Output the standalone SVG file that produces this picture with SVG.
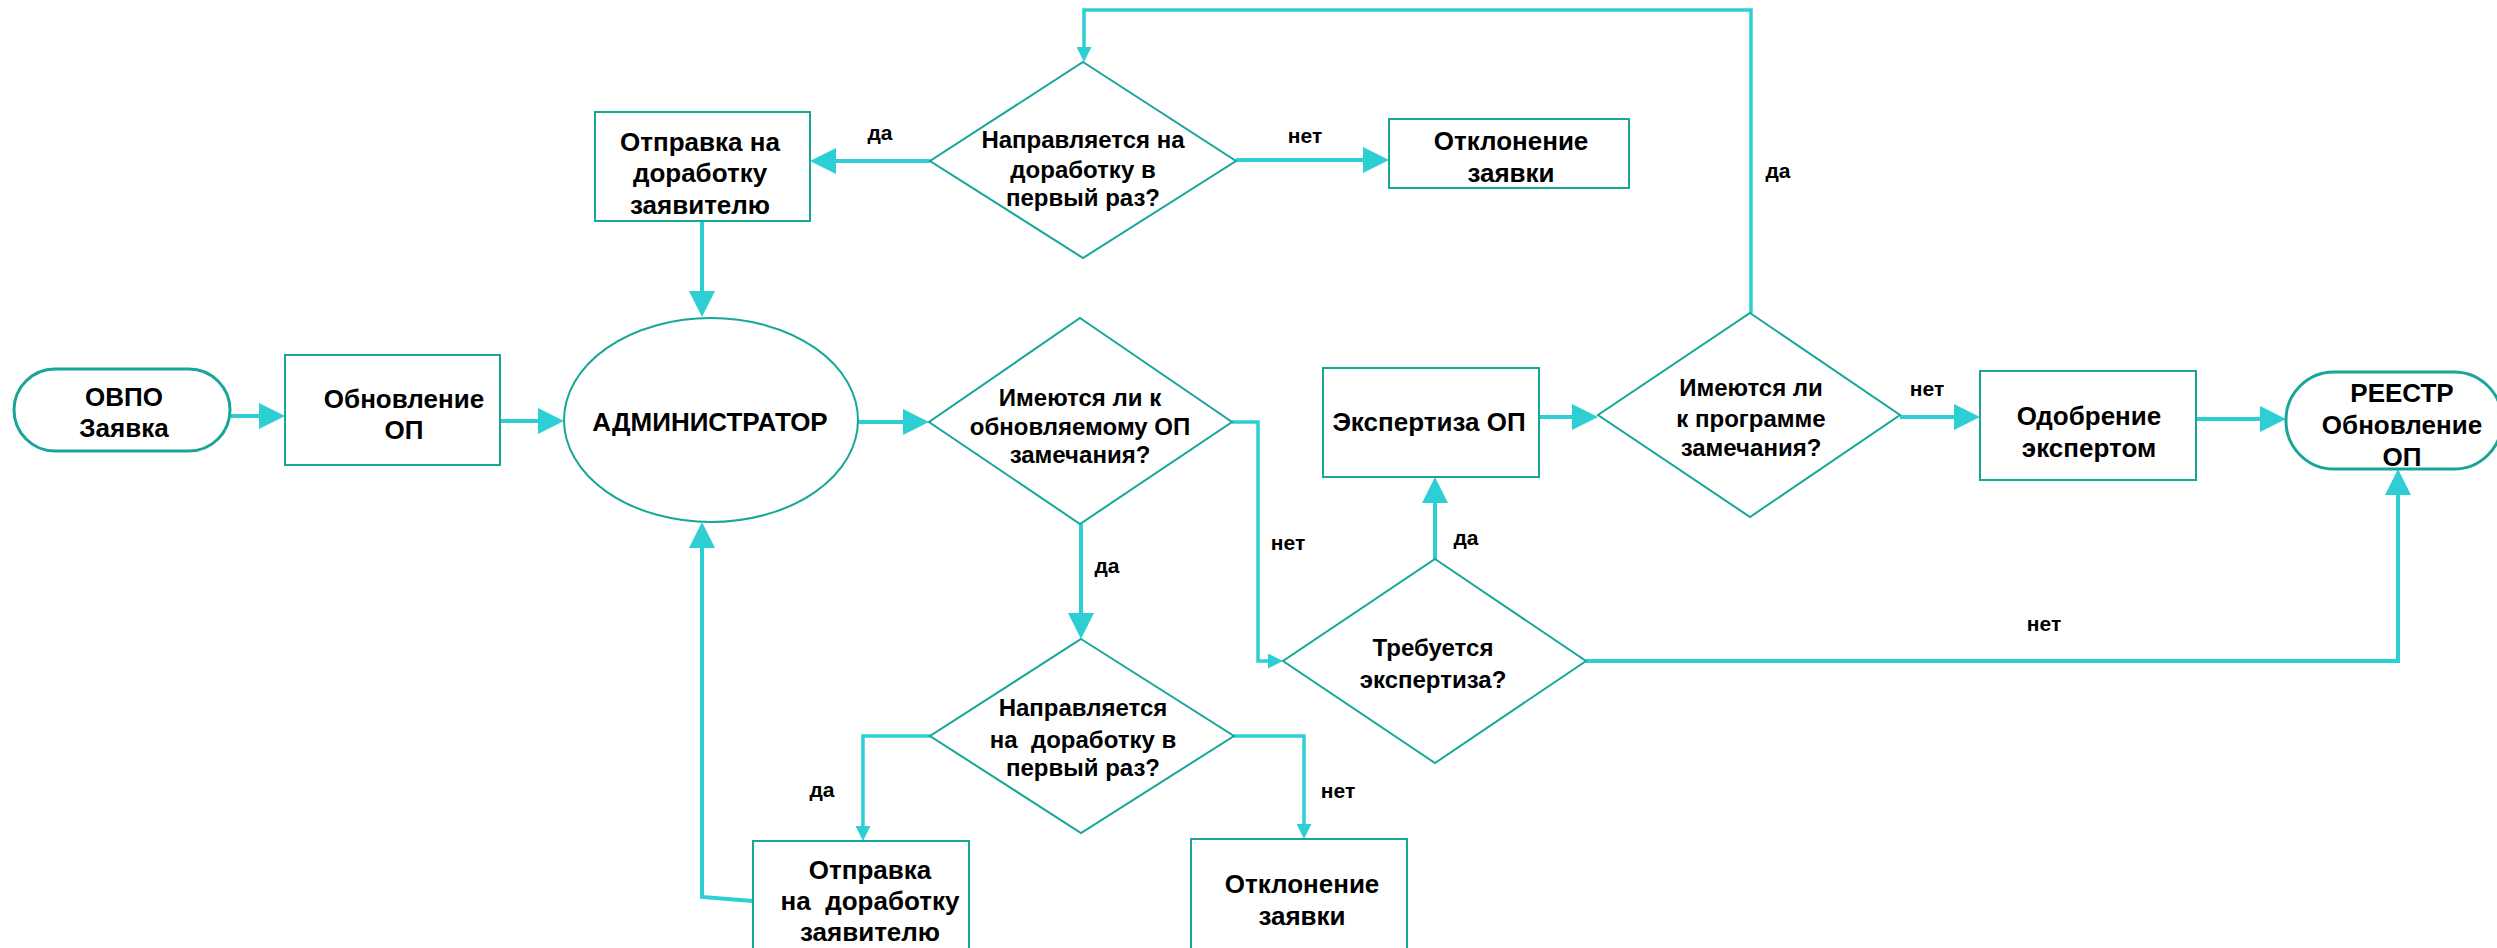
<svg xmlns="http://www.w3.org/2000/svg" width="2497" height="948" viewBox="0 0 2497 948">
<style>
.node{fill:#ffffff;stroke:#17a697;stroke-width:2}
.term{fill:#ffffff;stroke:#17a697;stroke-width:3}
.t{font-family:"Liberation Sans",Arial,sans-serif;font-weight:bold;font-size:26px;fill:#000;text-anchor:middle}
.d{font-family:"Liberation Sans",Arial,sans-serif;font-weight:bold;font-size:24px;fill:#000;text-anchor:middle}
.lbl{font-family:"Liberation Sans",Arial,sans-serif;font-weight:bold;font-size:21px;fill:#000;text-anchor:middle}
.c{fill:none;stroke:#2ecfd4;stroke-width:4;stroke-linejoin:miter}
.cs{fill:none;stroke:#2ecfd4;stroke-width:3.5;stroke-linejoin:miter}
</style>
<defs>
<marker id="big" markerUnits="userSpaceOnUse" markerWidth="26" markerHeight="26" viewBox="0 0 26 26" refX="16" refY="13" orient="auto"><path d="M0,0 L26,13 L0,26 z" fill="#2ecfd4"/></marker>
<marker id="sm" markerUnits="userSpaceOnUse" markerWidth="15" markerHeight="15" viewBox="0 0 15 15" refX="9" refY="7.5" orient="auto"><path d="M0,0 L15,7.5 L0,15 z" fill="#2ecfd4"/></marker>
</defs>
<rect width="2497" height="948" fill="#ffffff"/>
<g id="connectors">
<path class="c" d="M231,416 H275" marker-end="url(#big)"/>
<path class="c" d="M500,421 H554" marker-end="url(#big)"/>
<path class="c" d="M857,422 H919" marker-end="url(#big)"/>
<path class="c" d="M930,161 H820" marker-end="url(#big)"/>
<path class="c" d="M702,221 V307" marker-end="url(#big)"/>
<path class="c" d="M1236,160 H1379" marker-end="url(#big)"/>
<path class="cs" d="M1751,313 V10 H1084 V56" marker-end="url(#sm)"/>
<path class="c" d="M1081,524 V629" marker-end="url(#big)"/>
<path class="cs" d="M930,736 H863 V835" marker-end="url(#sm)"/>
<path class="cs" d="M1234,736 H1304 V833" marker-end="url(#sm)"/>
<path class="c" d="M753,901 L702,897 V532" marker-end="url(#big)"/>
<path class="cs" d="M1232,422 H1258 V661 H1277" marker-end="url(#sm)"/>
<path class="c" d="M1435,559 V487" marker-end="url(#big)"/>
<path class="c" d="M1539,417 H1588" marker-end="url(#big)"/>
<path class="c" d="M1900,417 H1970" marker-end="url(#big)"/>
<path class="c" d="M2196,419 H2276" marker-end="url(#big)"/>
<path class="c" d="M1586,661 H2398 V479" marker-end="url(#big)"/>
<text class="lbl" x="880" y="140">да</text>
<text class="lbl" x="1305" y="143">нет</text>
<text class="lbl" x="1778" y="178">да</text>
<text class="lbl" x="1107" y="573">да</text>
<text class="lbl" x="1288" y="550">нет</text>
<text class="lbl" x="822" y="797">да</text>
<text class="lbl" x="1338" y="798">нет</text>
<text class="lbl" x="1466" y="545">да</text>
<text class="lbl" x="2044" y="631">нет</text>
<text class="lbl" x="1927" y="396">нет</text>
</g>
<g id="n-ovpo">
<rect class="term" x="14" y="369" width="216" height="82" rx="41" ry="41"/>
<text class="t" x="124" y="406">ОВПО</text>
<text class="t" x="124" y="437">Заявка</text>
</g>
<g id="n-obnovlenie">
<rect class="node" x="285" y="355" width="215" height="110"/>
<text class="t" x="404" y="408">Обновление</text>
<text class="t" x="404" y="439">ОП</text>
</g>
<g id="n-admin">
<ellipse class="node" cx="711" cy="420" rx="147" ry="102"/>
<text class="t" x="710" y="431">АДМИНИСТРАТОР</text>
</g>
<g id="n-otpravka-top">
<rect class="node" x="595" y="112" width="215" height="109"/>
<text class="t" x="700" y="151">Отправка на</text>
<text class="t" x="700" y="182">доработку</text>
<text class="t" x="700" y="214">заявителю</text>
</g>
<g id="n-d1">
<polygon class="node" points="1083,62 1236,161 1083,258 930,161"/>
<text class="d" x="1083" y="148">Направляется на</text>
<text class="d" x="1083" y="178">доработку в</text>
<text class="d" x="1083" y="206">первый раз?</text>
</g>
<g id="n-otklonenie-top">
<rect class="node" x="1389" y="119" width="240" height="69"/>
<text class="t" x="1511" y="150">Отклонение</text>
<text class="t" x="1511" y="182">заявки</text>
</g>
<g id="n-d2">
<polygon class="node" points="1080,318 1232,422 1080,524 929,422"/>
<text class="d" x="1080" y="406">Имеются ли к</text>
<text class="d" x="1080" y="435">обновляемому ОП</text>
<text class="d" x="1080" y="463">замечания?</text>
</g>
<g id="n-ekspertiza">
<rect class="node" x="1323" y="368" width="216" height="109"/>
<text class="t" x="1429" y="431">Экспертиза ОП</text>
</g>
<g id="n-d3">
<polygon class="node" points="1750,313 1900,415 1750,517 1598,415"/>
<text class="d" x="1751" y="396">Имеются ли</text>
<text class="d" x="1751" y="427">к программе</text>
<text class="d" x="1751" y="456">замечания?</text>
</g>
<g id="n-odobrenie">
<rect class="node" x="1980" y="371" width="216" height="109"/>
<text class="t" x="2089" y="425">Одобрение</text>
<text class="t" x="2089" y="457">экспертом</text>
</g>
<g id="n-reestr">
<rect class="term" x="2286" y="372" width="216" height="97" rx="48" ry="48"/>
<text class="t" x="2402" y="402">РЕЕСТР</text>
<text class="t" x="2402" y="434">Обновление</text>
<text class="t" x="2402" y="466">ОП</text>
</g>
<g id="n-d4">
<polygon class="node" points="1081,639 1234,736 1081,833 930,736"/>
<text class="d" x="1083" y="716">Направляется</text>
<text class="d" x="1083" y="748" xml:space="preserve">на  доработку в</text>
<text class="d" x="1083" y="776">первый раз?</text>
</g>
<g id="n-d5">
<polygon class="node" points="1435,559 1586,661 1435,763 1283,661"/>
<text class="d" x="1433" y="656">Требуется</text>
<text class="d" x="1433" y="688">экспертиза?</text>
</g>
<g id="n-otpravka-bottom">
<rect class="node" x="753" y="841" width="216" height="130"/>
<text class="t" x="870" y="879">Отправка</text>
<text class="t" x="870" y="910" xml:space="preserve">на  доработку</text>
<text class="t" x="870" y="941">заявителю</text>
</g>
<g id="n-otklonenie-bottom">
<rect class="node" x="1191" y="839" width="216" height="130"/>
<text class="t" x="1302" y="893">Отклонение</text>
<text class="t" x="1302" y="925">заявки</text>
</g>
</svg>
